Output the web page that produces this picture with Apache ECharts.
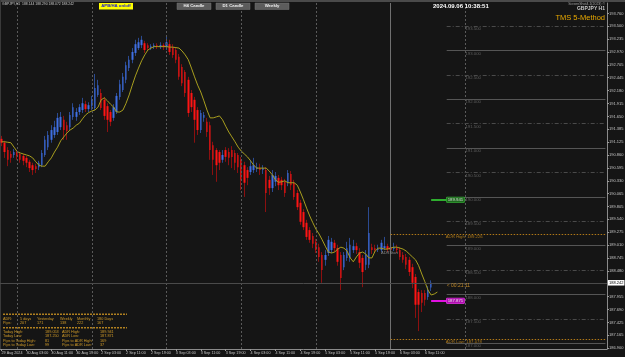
<!DOCTYPE html>
<html><head><meta charset="utf-8">
<script src="https://cdn.jsdelivr.net/npm/echarts@6/dist/echarts.min.js"></script>
<style>html,body{margin:0;padding:0;background:#151515;overflow:hidden}#c{width:625px;height:357px}</style>
</head><body><div id="c"></div><script>
// ---- categories (H1 bars, incl. future shift area) ----
const days = ['29 Aug','30 Aug','2 Sep','3 Sep','4 Sep','5 Sep','6 Sep','7 Sep','8 Sep'];
const firstHour = 19;
const totalSlots = 195;
const categories = [];
(function(){let d=0,h=firstHour;while(categories.length<totalSlots){categories.push(days[d]+' '+String(h).padStart(2,'0')+':00');h++;if(h===24){h=0;d++;}}})();

// ---- OHLC values (GBPJPY H1) ----
const open = [
 191.19,191.11,190.96,190.88,190.86,
 190.92,190.88,190.84,190.80,190.72,190.65,190.63,190.61,190.65,190.86,191.02,191.17,191.27,191.33,191.43,191.58,191.47,191.43,191.64,191.64,191.74,191.78,191.90,191.80,
 191.86,191.82,192.09,192.13,191.99,191.86,191.74,191.62,191.74,192.05,192.19,192.40,192.64,192.81,192.95,193.05,193.11,193.15,193.11,193.05,193.07,193.11,193.07,193.11,
 193.07,193.13,193.07,193.01,192.87,192.66,192.56,192.40,192.13,191.99,191.78,191.37,191.62,191.54,191.47,191.06,190.96,190.92,190.76,190.96,190.92,190.96,190.90,190.86,
 190.76,190.65,190.55,190.51,190.55,190.57,190.59,190.55,190.55,190.35,190.18,190.31,190.39,190.35,190.31,190.29,190.47,190.29,190.08,189.88,189.69,189.47,189.32,189.20,
 189.08,188.97,188.81,188.71,188.85,188.91,189.06,188.95,188.81,188.56,188.75,188.75,188.91,188.99,188.87,188.75,188.61,188.61,188.97,188.95,188.91,188.91,188.95,188.99,
 188.97,188.93,188.95,188.91,188.81,188.77,188.71,188.56,188.36,188.05,188.03,188.03,187.95,188.144
];
const close = [
 191.11,190.92,190.76,190.80,190.92,
 190.84,190.76,190.74,190.70,190.59,190.55,190.57,190.70,190.90,191.17,191.27,191.37,191.43,191.62,191.64,191.37,191.35,191.68,191.84,191.74,191.84,191.92,191.80,191.88,
 191.99,192.23,192.29,191.82,191.66,191.58,191.54,191.84,192.07,192.31,192.46,192.70,192.81,192.97,193.13,193.17,193.22,193.01,193.05,193.09,193.11,193.07,193.11,193.07,
 193.17,192.97,192.91,192.81,192.46,192.33,192.13,191.72,191.84,191.58,191.37,191.72,191.68,191.33,190.96,190.76,190.65,190.70,190.86,190.82,190.80,190.82,190.70,190.61,
 190.35,190.29,190.39,190.63,190.65,190.61,190.55,190.59,190.08,190.18,190.45,190.43,190.24,190.24,190.08,190.49,190.24,190.00,189.79,189.49,189.38,189.18,189.12,189.04,
 188.91,188.77,188.50,188.81,189.12,189.08,188.95,188.67,188.34,188.81,188.95,189.02,188.99,188.91,188.65,188.46,188.81,189.26,188.91,188.91,188.95,189.06,188.99,188.93,
 188.91,188.97,188.91,188.77,188.71,188.61,188.46,188.24,187.79,187.79,187.83,187.89,188.09,188.242
];
const high = [
 191.25,191.15,191.02,190.94,190.98,
 190.96,190.92,190.88,190.84,190.76,190.70,190.68,190.74,190.96,191.25,191.35,191.47,191.56,191.72,191.74,191.66,191.54,191.74,191.92,191.82,191.90,192.03,191.97,191.94,
 192.07,192.52,192.40,192.21,192.05,191.92,191.78,191.90,192.13,192.40,192.54,192.77,192.89,193.05,193.22,193.26,193.30,193.20,193.15,193.13,193.15,193.15,193.17,193.15,
 193.30,193.22,193.13,193.07,192.93,192.72,192.60,192.46,192.19,192.05,191.84,191.78,191.74,191.62,191.54,191.13,191.00,190.96,190.96,191.02,191.00,191.04,190.96,190.90,
 190.82,190.72,190.61,190.76,190.80,190.70,190.68,190.65,190.61,190.43,190.55,190.51,190.45,190.41,190.37,190.55,190.53,190.35,190.14,189.94,189.75,189.53,189.38,189.26,
 189.14,189.04,188.87,188.91,189.20,189.16,189.12,189.02,188.87,188.87,189.08,189.16,189.12,189.06,188.95,188.81,188.91,189.79,189.04,189.02,189.02,189.12,189.18,189.04,
 189.04,189.06,189.02,188.97,188.87,188.83,188.77,188.63,188.42,188.11,188.09,188.09,188.17,188.290
];
const low = [
 191.04,190.80,190.63,190.70,190.80,
 190.76,190.70,190.65,190.61,190.51,190.45,190.49,190.55,190.61,190.82,190.96,191.11,191.21,191.27,191.37,191.17,191.17,191.37,191.58,191.56,191.68,191.72,191.74,191.74,
 191.78,191.78,192.05,191.78,191.58,191.33,191.45,191.56,191.70,191.99,192.15,192.33,192.58,192.74,192.89,193.01,193.05,192.95,193.01,193.01,193.03,193.03,193.03,193.01,
 193.01,192.91,192.85,192.74,192.40,192.27,192.05,191.64,191.74,191.11,191.27,191.31,191.54,191.23,190.76,190.45,190.31,190.55,190.70,190.72,190.65,190.59,190.55,190.49,
 190.14,190.00,190.24,190.45,190.49,190.51,190.45,190.47,189.69,190.04,190.10,190.22,190.14,190.14,190.00,190.22,190.14,189.94,189.73,189.43,189.32,189.12,189.06,188.95,
 188.85,188.67,188.24,188.59,188.79,188.85,188.87,188.59,188.09,188.50,188.69,188.67,188.85,188.83,188.54,188.15,188.50,188.54,188.83,188.85,188.87,188.87,188.91,188.87,
 188.85,188.89,188.85,188.71,188.65,188.52,188.38,188.13,187.52,187.25,187.64,187.77,187.89,188.072
];
// moving average (yellow line)
const ma = [
 191.13,191.13,191.12,191.11,191.02,
 190.93,190.90,190.88,190.86,190.84,190.80,190.72,190.65,190.63,190.63,190.72,190.80,190.92,191.02,191.15,191.23,191.31,191.37,191.41,191.47,191.51,191.60,191.68,191.73,
 191.76,191.78,191.84,191.99,192.03,191.97,191.90,191.84,191.74,191.74,191.78,191.92,192.09,192.29,192.48,192.64,192.79,192.91,193.01,193.05,193.08,193.08,193.08,193.08,
 193.08,193.07,193.07,193.06,193.05,192.99,192.91,192.81,192.64,192.46,192.29,192.15,191.97,191.78,191.62,191.62,191.64,191.66,191.58,191.45,191.33,191.23,191.13,191.02,
 190.94,190.88,190.82,190.74,190.65,190.59,190.59,190.59,190.59,190.53,190.45,190.35,190.30,190.31,190.33,190.29,190.29,190.29,190.24,190.10,189.94,189.77,189.61,189.47,
 189.34,189.24,189.12,188.99,188.87,188.85,188.87,188.93,188.97,188.95,188.89,188.75,188.67,188.77,188.85,188.87,188.83,188.75,188.75,188.89,188.95,188.95,188.93,188.93,
 188.95,188.97,188.97,188.95,188.93,188.89,188.83,188.77,188.71,188.59,188.42,188.26,188.09,187.99,188.01,188.05
];

// ---- levels / labels ----
const yTicks = [186.900,187.165,187.425,187.690,187.955,188.480,188.745,189.010,189.275,189.540,189.805,190.065,190.330,190.595,190.860,191.125,191.385,191.650,191.915,192.180,192.445,192.705,192.970,193.235,193.500,193.760];
const xTickCats = ['29 Aug 19:00','30 Aug 03:00','30 Aug 11:00','30 Aug 19:00','2 Sep 03:00','2 Sep 11:00','2 Sep 19:00','3 Sep 03:00','3 Sep 11:00','3 Sep 19:00','4 Sep 03:00','4 Sep 11:00','4 Sep 19:00','5 Sep 03:00','5 Sep 11:00','5 Sep 19:00','6 Sep 03:00','6 Sep 11:00'];
const xTickText = ['29 Aug 2024','30 Aug 03:00','30 Aug 11:00','30 Aug 19:00','2 Sep 03:00','2 Sep 11:00','2 Sep 19:00','3 Sep 03:00','3 Sep 11:00','3 Sep 19:00','4 Sep 03:00','4 Sep 11:00','4 Sep 19:00','5 Sep 03:00','5 Sep 11:00','5 Sep 19:00','6 Sep 03:00','6 Sep 11:00'];
const dayStarts = ['30 Aug 00:00','2 Sep 00:00','3 Sep 00:00','4 Sep 00:00','5 Sep 00:00','6 Sep 00:00','7 Sep 00:00'];
const todayStart = '6 Sep 00:00';
const roundLevels = [193.5,193.0,192.5,192.0,191.5,191.0,190.5,190.0,189.5,189.0,188.5,188.0,187.5,187.0];
const levelStart = '6 Sep 18:00', levelLabelAt = '7 Sep 00:00';
const lastBar = '6 Sep 13:00';
const bid = 188.242;
const adrHigh = 189.226, adrLow = 187.078;
const tgtHigh = 189.941, tgtLow = 187.871;
const timerText = '< 00:21:11';
const tableHead = ['ADR:','5 days','Yesterday','Weekly','Monthly','180 Days'];
const tablePips = ['Pips:','207','171','138','222','167'];
const statsLeft = [['Today High:','189.053'],['Today Low:','187.250'],['Pips to Today High:','81'],['Pips to Today Low:','99']];
const statsRight = [['ADR High:','189.941'],['ADR Low:','187.871'],['Pips to ADR High:','169'],['Pips to ADR Low:','37']];

const FONT = 'Liberation Sans';
const lastCat = categories[categories.length-1];
const ohlc = open.map((o,i)=>[o, close[i], low[i], high[i]]);
const bodies = open.map((o,i)=>[o, close[i], Math.min(o,close[i]), Math.max(o,close[i])]);
const tickSet = new Set(xTickCats);

const guideLines = roundLevels.map(v=>[
  {coord:[levelStart, v], lineStyle:{color: (Math.round(v*2)%2===0)?'#555':'#4a4a4a', type:(Math.round(v*2)%2===0)?'solid':[4,2,1,2], width:1}},
  {coord:[lastCat, v]}
]);

const chart = echarts.init(document.getElementById('c'), null, {renderer:'canvas'});

const T = (text,x,y,size,fill,opts={}) => ({type:'text', silent:true, z:100, style:Object.assign({text, x, y, fill, font:(opts.bold?'bold ':'')+size+'px '+FONT, textAlign:opts.align||'left', align:opts.align||'left', textVerticalAlign:'middle', verticalAlign:'middle'}, opts.style||{})});

const graphics = [
  {type:'rect', shape:{x:0,y:0,width:625,height:2}, style:{fill:'#4a4a4a'}, silent:true},
  {type:'rect', shape:{x:0,y:0,width:1,height:349}, style:{fill:'#3a3a3a'}, silent:true},
  T('GBPJPY,H1  188.144 188.290 188.072 188.242', 2, 4.5, 3.4, '#c8c8c8'),
  {type:'rect', shape:{x:99,y:3,width:34,height:6.5}, style:{fill:'#ffff00'}, silent:true, z:99},
  T('APB/HA on/off', 116, 6.3, 4.3, '#1a1ad0', {bold:true, align:'center'}),
  {type:'rect', shape:{x:177,y:3,width:34,height:6.5}, style:{fill:'#5c5c5c', stroke:'#777', lineWidth:0.5}, silent:true, z:99},
  T('H4 Candle', 194, 6.3, 4.3, '#f0f0f0', {bold:true, align:'center'}),
  {type:'rect', shape:{x:216,y:3,width:34,height:6.5}, style:{fill:'#5c5c5c', stroke:'#777', lineWidth:0.5}, silent:true, z:99},
  T('D1 Candle', 233, 6.3, 4.3, '#f0f0f0', {bold:true, align:'center'}),
  {type:'rect', shape:{x:255,y:3,width:34,height:6.5}, style:{fill:'#5c5c5c', stroke:'#777', lineWidth:0.5}, silent:true, z:99},
  T('Weekly', 272, 6.3, 4.3, '#f0f0f0', {bold:true, align:'center'}),
  T('2024.09.06 10:38:51', 433, 6, 6, '#ffffff', {bold:true}),
  T('ScreenShot4.1(2023) ©', 605, 4, 3.5, '#a0a0a0', {align:'right'}),
  T('GBPJPY H1', 605, 8.5, 5, '#c8c8c8', {align:'right', bold:true}),
  T('TMS 5-Method', 605, 18.3, 7.5, '#e8a800', {align:'right'}),
  T('ADRStart', 381, 253, 4, '#8a8a8a'),
  {type:'line', shape:{x1:3,y1:314.3,x2:127,y2:314.3}, style:{stroke:'#b08020', lineWidth:1.5, lineDash:[2,1]}, silent:true},
  {type:'line', shape:{x1:3,y1:327.7,x2:127,y2:327.7}, style:{stroke:'#b08020', lineWidth:1.5, lineDash:[2,1]}, silent:true}
];
const colX = [3,20,37,60,77,97];
tableHead.forEach((t,i)=>graphics.push(T(t, colX[i], 319, 3.8, '#d09a28')));
tablePips.forEach((t,i)=>graphics.push(T(t, colX[i], 323.3, 3.8, '#d09a28')));
const rowY = [332,336.3,340.7,345];
statsLeft.forEach((r,i)=>{graphics.push(T(r[0],3,rowY[i],3.8,'#d09a28'));graphics.push(T(r[1],45,rowY[i],3.8,'#d09a28'));});
statsRight.forEach((r,i)=>{graphics.push(T(r[0],62,rowY[i],3.8,'#d09a28'));graphics.push(T(r[1],100,rowY[i],3.8,'#d09a28'));});

const lblText = (color,size)=>({show:true, position:'right', distance:0, color, fontSize:size, fontFamily:FONT});

chart.setOption({
  animation:false,
  backgroundColor:'#151515',
  grid:{left:0, right:18, top:3, bottom:8, containLabel:false, outerBoundsMode:'none'},
  xAxis:{
    type:'category', data:categories, boundaryGap:true,
    axisLine:{show:true, lineStyle:{color:'#8a8a8a', width:1}},
    axisTick:{show:true, alignWithLabel:true, length:2, interval:(i,v)=>tickSet.has(v), lineStyle:{color:'#9a9a9a'}},
    axisLabel:{show:true, interval:(i,v)=>tickSet.has(v), formatter:(v)=>xTickText[xTickCats.indexOf(v)]||'', align:'left', margin:1.5, fontSize:3.7, color:'#c4c4c4', fontFamily:FONT, hideOverlap:false},
    splitLine:{show:false}
  },
  yAxis:{
    type:'value', position:'right', min:186.883, max:193.974, scale:true,
    axisLine:{show:true, lineStyle:{color:'#8a8a8a', width:1}},
    axisTick:{show:true, length:2, customValues:yTicks, lineStyle:{color:'#9a9a9a'}},
    axisLabel:{show:true, customValues:yTicks, formatter:(v)=>Number(v).toFixed(3), margin:2, fontSize:4, color:'#c4c4c4', fontFamily:FONT},
    splitLine:{show:false}
  },
  graphic:graphics,
  series:[
    {
      name:'wick', type:'candlestick', data:ohlc, barWidth:1, z:2,
      itemStyle:{color:'#2b4a90', color0:'#8c1010', borderColor:'#2b4a90', borderColor0:'#8c1010', borderWidth:1},
      markLine:{
        silent:true, symbol:'none', animation:false,
        label:{show:false},
        data:[
          ...dayStarts.map(c=>({xAxis:c, lineStyle:{color: c===todayStart?'#707070':'#5a5a5a', type: c===todayStart?'solid':[2,2], width:1}})),
          ...guideLines,
          [{coord:[todayStart, adrHigh], lineStyle:{color:'#b07818', type:[1.5,1.5], width:1}},{coord:[lastCat, adrHigh]}],
          [{coord:[todayStart, adrLow], lineStyle:{color:'#b07818', type:[1.5,1.5], width:1}},{coord:[lastCat, adrLow]}]
        ]
      }
    },
    {
      name:'body', type:'candlestick', data:bodies, barWidth:2, z:3,
      itemStyle:{color:'#3f6fe3', color0:'#ff1414', borderColor:'#3f6fe3', borderColor0:'#ff1414', borderWidth:0}
    },
    {
      name:'MA', type:'line', data:ma, showSymbol:false, symbol:'none', z:4,
      lineStyle:{color:'#a89e1e', width:1}, smooth:false,
      markLine:{
        silent:true, symbol:'none', animation:false,
        data:[
          {yAxis:bid, lineStyle:{color:'#4a4a4a', type:'solid', width:1},
           label:{show:true, position:'end', distance:1, formatter:'188.242', backgroundColor:'#ffffff', color:'#000', fontSize:4, fontFamily:FONT, padding:[1,1,0.5,1]}},
          [{coord:[lastBar, tgtHigh], lineStyle:{color:'#2eae2e', width:2, type:'solid'},
            label:{show:true, position:'end', distance:0, formatter:'189.941', backgroundColor:'#1f6a1f', borderColor:'#3cc23c', borderWidth:0.5, color:'#d8d8d8', fontSize:4.3, fontFamily:FONT, padding:[0.5,1]}},
           {coord:[levelStart, tgtHigh]}],
          [{coord:[lastBar, tgtLow], lineStyle:{color:'#e010e0', width:2, type:'solid'},
            label:{show:true, position:'end', distance:0, formatter:'187.871', backgroundColor:'#b010b0', borderColor:'#ff40ff', borderWidth:0.5, color:'#e8e8e8', fontSize:4.3, fontFamily:FONT, padding:[0.5,1]}},
           {coord:[levelStart, tgtLow]}]
        ]
      }
    },
    {
      name:'levelLabels', type:'scatter', symbolSize:0.1, z:5, silent:true,
      itemStyle:{color:'transparent'},
      data:roundLevels.map(v=>({value:[levelLabelAt, v], label:Object.assign(lblText('#707070',4.3),{formatter:v.toFixed(3), offset:[0,3]})}))
        .concat([
          {value:[levelStart, adrHigh], label:Object.assign(lblText('#d0901c',4.3),{formatter:'ADR High: '+adrHigh.toFixed(3), offset:[-1,2.5]})},
          {value:[levelStart, adrLow], label:Object.assign(lblText('#d0901c',4.3),{formatter:'ADR Low: '+adrLow.toFixed(3), offset:[-1,2.5]})},
          {value:[levelStart, bid], label:Object.assign(lblText('#e6a02a',5),{formatter:timerText, offset:[0,3]})}
        ])
    }
  ]
});
</script></body></html>
